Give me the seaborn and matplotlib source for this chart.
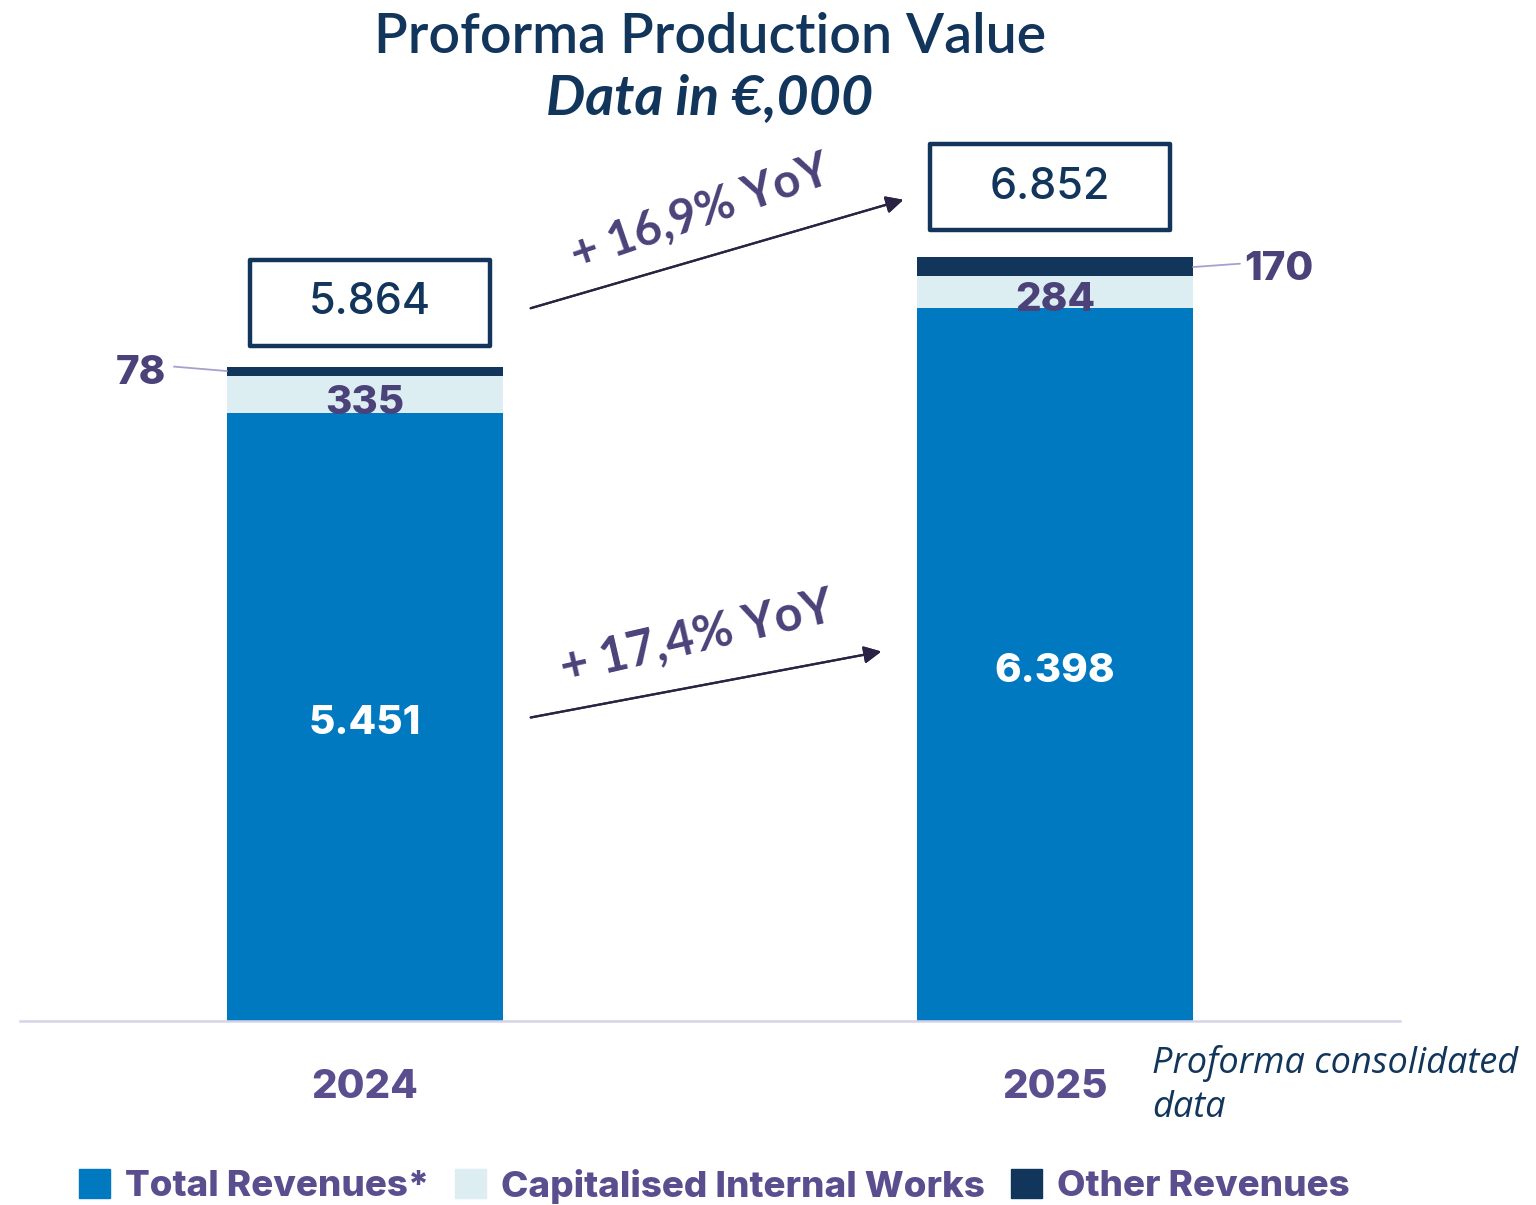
import pandas as pd
import matplotlib.pyplot as plt
import seaborn as sns
from matplotlib.patches import Patch, Rectangle

# data (€,000)
years = ["2024", "2025"]
total_revenues = [5451, 6398]
capitalised_works = [335, 284]
other_revenues = [78, 170]
growth_labels = ["+ 16,9% YoY", "+ 17,4% YoY"]

BLUE = "#0079C1"
LIGHT = "#DDEEF3"
DARK = "#12355B"
PURPLE = "#4B4279"
YEAR_PURPLE = "#5B4E8E"
NUM_FONT = ["Inter", "DejaVu Sans"]
HEAVY = 800

df = pd.DataFrame({
    "year": years,
    "total": total_revenues,
    "capitalised": capitalised_works,
    "other": other_revenues,
})
df["mid"] = df["total"] + df["capitalised"]
df["top"] = df["mid"] + df["other"]

sns.set_theme(style="white")
plt.rcParams["font.family"] = ["Lato", "DejaVu Sans"]

W, H = 1536, 1205
fig = plt.figure(figsize=(W / 100, H / 100), dpi=100)
ax = fig.add_axes([20 / W, 1 - 1021 / H, 1380 / W, 1021 / H])

# stacked bars drawn as overlapping cumulative bars
sns.barplot(data=df, x="year", y="top", color=DARK, width=0.4, saturation=1, ax=ax, linewidth=0)
sns.barplot(data=df, x="year", y="mid", color=LIGHT, width=0.4, saturation=1, ax=ax, linewidth=0)
sns.barplot(data=df, x="year", y="total", color=BLUE, width=0.4, saturation=1, ax=ax, linewidth=0)

ax.set_xlim(-0.5, 1.5)
ax.set_ylim(0, 1021 / 0.1115)
ax.set_xlabel("")
ax.set_ylabel("")
ax.set_xticks([])
ax.set_yticks([])
for s in ["top", "left", "right"]:
    ax.spines[s].set_visible(False)
ax.spines["bottom"].set_color("#D6D4E8")
ax.spines["bottom"].set_linewidth(1.8)


def fx(px):
    return px / W


def fy(py):
    return 1 - py / H


fmt = lambda v: f"{v:,}".replace(",", ".")

# title
fig.text(fx(710), fy(37), "Proforma Production Value", ha="center", va="center",
         fontsize=40, fontweight="semibold", color=DARK)
fig.text(fx(710), fy(98), "Data in €,000", ha="center", va="center",
         fontsize=40, fontweight="bold", fontstyle="italic", color=DARK)

box_gap = [190, 242]      # gap between bar top and the total box
box_shift = [0.007, -0.007]
box_w, box_h = 0.348, 771

for i, row in df.iterrows():
    # values inside the bars
    ax.text(i, row["total"] / 2 - 60, fmt(row["total"]), ha="center", va="center",
            fontsize=29, fontweight=HEAVY, color="white", family=NUM_FONT)
    ax.text(i, row["total"] + row["capitalised"] / 2 - 80, fmt(row["capitalised"]),
            ha="center", va="center", fontsize=29, fontweight=HEAVY, color=PURPLE,
            family=NUM_FONT)
    # total in a box
    cx = i + box_shift[i]
    y0 = row["top"] + box_gap[i]
    ax.add_patch(Rectangle((cx - box_w / 2, y0), box_w, box_h, fc="white", ec=DARK,
                           lw=3.2, joinstyle="round", clip_on=False))
    ax.text(cx, y0 + box_h / 2, fmt(row["top"]), ha="center", va="center",
            fontsize=31, fontweight="medium", color=DARK, family=NUM_FONT)
    # year labels
    ax.text(i, -600, row["year"], ha="center", va="center", fontsize=29,
            fontweight=HEAVY, color=YEAR_PURPLE, clip_on=False, family=NUM_FONT)

# other revenues labels with leader lines
lead_kw = dict(arrowstyle="-", color="#A99FCF", lw=1.3, shrinkA=0, shrinkB=0)
ax.annotate("", xy=(-0.2, df["top"][0] - 35), xytext=(-0.277, df["top"][0] + 5),
            arrowprops=lead_kw)
ax.text(-0.325, df["top"][0] - 60, str(other_revenues[0]), ha="center", va="center",
        fontsize=29, fontweight=HEAVY, color=PURPLE, family=NUM_FONT)
ax.annotate("", xy=(1.2, df["top"][1] - 90), xytext=(1.268, df["top"][1] - 60),
            arrowprops=lead_kw)
ax.text(1.324, df["top"][1] - 110, str(other_revenues[1]), ha="center", va="center",
        fontsize=29, fontweight=HEAVY, color=PURPLE, family=NUM_FONT)

# growth arrows
arrow_kw = dict(arrowstyle="-|>", color="#2A2344", lw=1.6, mutation_scale=26)
fig.add_artist(plt.annotate("", xy=(fx(906), fy(199)), xytext=(fx(528), fy(309)),
                            xycoords="figure fraction", arrowprops=arrow_kw))
fig.add_artist(plt.annotate("", xy=(fx(884), fy(651)), xytext=(fx(528), fy(718)),
                            xycoords="figure fraction", arrowprops=arrow_kw))
fig.text(fx(700), fy(212), growth_labels[0], ha="center", va="center", rotation=19,
         rotation_mode="anchor", fontsize=34, fontweight="bold", color=PURPLE)
fig.text(fx(697), fy(638), growth_labels[1], ha="center", va="center", rotation=13,
         rotation_mode="anchor", fontsize=35, fontweight="bold", color=PURPLE)

# footnote
fig.text(fx(1152), fy(1063), "Proforma consolidated", ha="left", va="center",
         fontsize=26, fontstyle="italic", color=DARK, family=["Open Sans", "DejaVu Sans"])
fig.text(fx(1152), fy(1108), "data", ha="left", va="center",
         fontsize=26, fontstyle="italic", color=DARK, family=["Open Sans", "DejaVu Sans"])

# legend
handles = [Patch(color=BLUE), Patch(color=LIGHT), Patch(color=DARK)]
labels = ["Total Revenues*", "Capitalised Internal Works", "Other Revenues"]
leg = fig.legend(handles, labels, loc="center", bbox_to_anchor=(fx(714), fy(1186)), ncol=3,
                 frameon=False, handlelength=0.85, handleheight=0.85, handletextpad=0.4,
                 columnspacing=0.7, prop=dict(size=26.5, weight=HEAVY, family=NUM_FONT))
for t in leg.get_texts():
    t.set_color(YEAR_PURPLE)

fig.savefig("out.png", dpi=100)
